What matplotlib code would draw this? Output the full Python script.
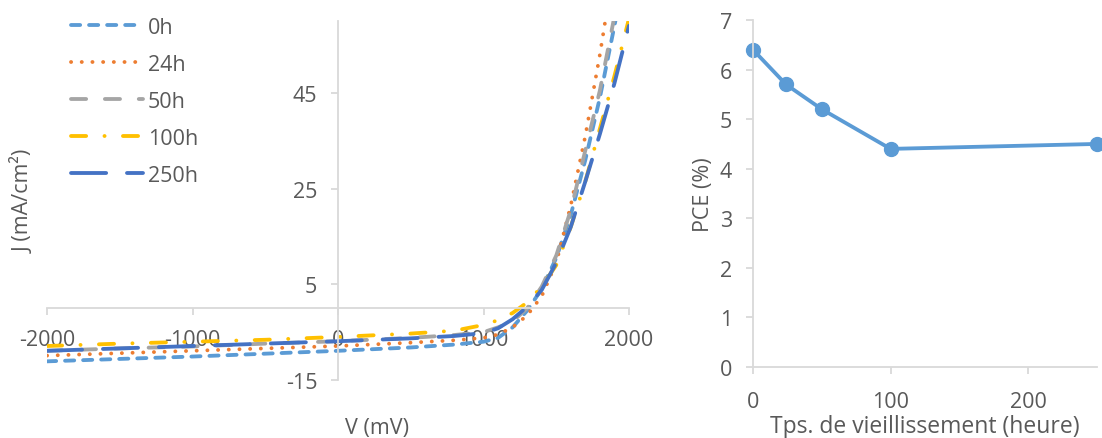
import matplotlib
matplotlib.use("Agg")
import matplotlib.pyplot as plt

plt.rcParams['font.family'] = ['Open Sans', 'DejaVu Sans']
plt.rcParams['lines.scale_dashes'] = False
plt.rcParams['axes.unicode_minus'] = False

# J-V curves (V in mV, J in mA/cm2)
V = [-2000, -1500, -1000, -500, 0, 500, 800, 1000, 1100, 1200,
     1300, 1400, 1500, 1600, 1700, 1800, 1900, 2000]
J_0h = [-11.1, -10.6, -10.1, -9.5, -8.9, -8.2, -7.6, -7.0, -6.2, -4.0,
        -0.5, 4.0, 10.5, 19.5, 31.0, 44.0, 59.0, 75.0]
J_24h = [-9.9, -9.4, -8.9, -8.4, -7.9, -7.2, -6.7, -6.2, -5.5, -4.0,
         -1.5, 2.5, 9.5, 21.5, 36.0, 53.0, 72.0, 90.0]
J_50h = [-8.9, -8.4, -8.0, -7.4, -6.9, -6.2, -5.6, -5.0, -4.0, -2.8,
         0.0, 4.5, 11.0, 20.5, 33.0, 45.5, 61.0, 78.0]
J_100h = [-7.9, -7.4, -7.0, -6.6, -6.0, -5.3, -4.7, -3.5, -2.5, -1.0,
          1.2, 4.5, 9.0, 17.0, 26.5, 37.5, 48.5, 60.5]
J_250h = [-8.9, -8.4, -7.9, -7.4, -6.9, -6.3, -5.8, -5.2, -4.2, -2.3,
          0.3, 3.8, 9.5, 17.0, 26.5, 36.4, 47.0, 59.0]
labels = ['0h', '24h', '50h', '100h', '250h']

# efficiency vs ageing time
hours = [0, 24, 50, 100, 250]
pce = [6.4, 5.7, 5.2, 4.4, 4.5]

grey = '#595959'
axcol = '#d9d9d9'
fs = 15.5

fig = plt.figure(figsize=(11.02, 4.39), dpi=100)

# ---- left: J-V
ax = fig.add_axes([47/1102, 1-381/439, 582/1102, 359/439])
series = [J_0h, J_24h, J_50h, J_100h, J_250h]
colors = ['#5B9BD5', '#ED7D31', '#A5A5A5', '#FFC000', '#4472C4']
dashes = [(6.6, 6.4), (0.1, 7.6), (10.9, 13.5), (10.9, 13.2, 0.1, 13.2), (25.3, 15.0)]
for J, c, d, lab in zip(series, colors, dashes, labels):
    ln, = ax.plot(V, J, color=c, lw=2.75, label=lab)
    ln.set_dashes(d)
    ln.set_dash_capstyle('round')

ax.set_xlim(-2000, 2000)
ax.set_ylim(-15, 60)
ax.set_xticks([-2000, -1000, 0, 1000, 2000])
ax.set_yticks([-15, 5, 25, 45])
for s in ['top', 'right']:
    ax.spines[s].set_visible(False)
ax.spines['left'].set_position(('data', 0))
ax.spines['bottom'].set_position(('data', 0))
for s in ['left', 'bottom']:
    ax.spines[s].set_color(axcol)
    ax.spines[s].set_linewidth(1.3)
ax.tick_params(axis='x', colors=axcol, labelcolor=grey, labelsize=fs, length=5, width=1.3, pad=10)
ax.tick_params(axis='y', colors=axcol, labelcolor=grey, labelsize=fs, length=5, width=1.3, pad=10)
ax.set_xlabel('V (mV)', color=grey, fontsize=fs)
ax.set_ylabel('J (mA/cm²)', color=grey, fontsize=fs)
ax.xaxis.set_label_coords(0.567, -0.103)
ax.yaxis.set_label_coords(-0.021, 0.5)
leg = ax.legend(loc='upper left', bbox_to_anchor=(71/1102, 1-18/439), bbox_transform=fig.transFigure,
                frameon=False, fontsize=fs, handlelength=3.35, handletextpad=0.23,
                labelspacing=0.74, borderpad=0, borderaxespad=0)
for t in leg.get_texts():
    t.set_color(grey)

# ---- right: PCE vs time
ax2 = fig.add_axes([753/1102, 1-368/439, 344/1102, 347/439])
ax2.plot(hours, pce, color='#5B9BD5', lw=2.75, marker='o', markersize=10, clip_on=False)
ax2.set_xlim(0, 250)
ax2.set_ylim(0, 7)
ax2.set_xticks([0, 100, 200])
ax2.set_yticks(range(0, 8))
for s in ['top', 'right']:
    ax2.spines[s].set_visible(False)
for s in ['left', 'bottom']:
    ax2.spines[s].set_color(axcol)
    ax2.spines[s].set_linewidth(1.3)
ax2.tick_params(axis='x', colors=axcol, labelcolor=grey, labelsize=fs, length=5, width=1.3, pad=12)
ax2.tick_params(axis='y', colors=axcol, labelcolor=grey, labelsize=fs, length=5, width=1.3, pad=10)
ax2.set_xlabel('Tps. de vieillissement (heure)', color=grey, fontsize=fs + 1)
ax2.set_ylabel('PCE (%)', color=grey, fontsize=fs)
ax2.xaxis.set_label_coords(0.5, -0.135)
ax2.yaxis.set_label_coords(-0.113, 0.5)

fig.savefig('out.png', dpi=100)
